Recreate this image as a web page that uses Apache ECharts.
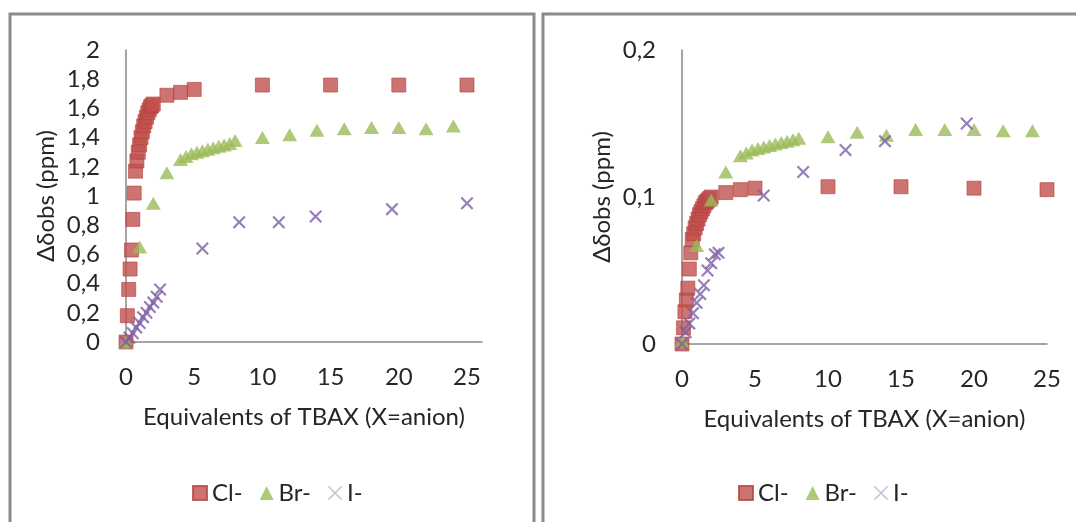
<!DOCTYPE html>
<html>
<head>
<meta charset="utf-8">
<script src="https://cdn.jsdelivr.net/npm/echarts@6/dist/echarts.min.js"></script>
<style>
html,body{margin:0;padding:0;background:#fff;}
#c{width:1076px;height:522px;}
</style>
</head>
<body>
<div id="c"></div>
<script>
// ---- data ----
var clX = [0,0.1,0.2,0.3,0.4,0.5,0.6,0.7,0.8,0.9,1.0,1.1,1.2,1.3,1.4,1.5,1.6,1.7,1.8,1.9,2.0,3,4,5,10,15,20,25];
var clLeftY = [0,0.18,0.36,0.50,0.63,0.84,1.02,1.17,1.24,1.30,1.35,1.40,1.44,1.48,1.51,1.54,1.57,1.59,1.61,1.62,1.63,1.69,1.71,1.73,1.76,1.76,1.76,1.76];
var clRightY = [0,0.011,0.022,0.030,0.038,0.051,0.062,0.071,0.075,0.079,0.082,0.085,0.088,0.090,0.092,0.094,0.096,0.097,0.098,0.099,0.100,0.103,0.105,0.106,0.107,0.107,0.106,0.105];

var brX = [0,1,2,3,4,4.4,4.8,5.2,5.6,6.0,6.4,6.8,7.2,7.6,8.0,10,12,14,16,18,20,22,24];
var brLeftY = [0,0.65,0.95,1.16,1.25,1.27,1.29,1.30,1.31,1.32,1.33,1.34,1.35,1.36,1.38,1.40,1.42,1.45,1.46,1.47,1.47,1.46,1.48];
var brRightY = [0.002,0.067,0.098,0.117,0.128,0.130,0.132,0.133,0.134,0.135,0.136,0.137,0.138,0.139,0.140,0.141,0.144,0.142,0.146,0.146,0.146,0.145,0.145];

var iX = [0,0.25,0.5,0.75,1.0,1.25,1.5,1.75,2.0,2.25,2.5,5.6,8.3,11.2,13.9,19.5,25];
var iLeftY = [0,0.03,0.06,0.10,0.13,0.17,0.20,0.24,0.27,0.31,0.36,0.64,0.82,0.82,0.86,0.91,0.95];
var iRightY = [0,0.008,0.014,0.021,0.028,0.034,0.040,0.050,0.055,0.061,0.062,0.101,0.117,0.132,0.138,0.150,null];

var seriesNames = ['Cl-','Br-','I-'];
var xTitle = 'Equivalents of TBAX (X=anion)';
var yTitle = 'Δδobs (ppm)';
var xTicks = [0,5,10,15,20,25];

function pairs(xs, ys){
  var out = [];
  for (var i=0;i<xs.length;i++){ if (ys[i] !== null) out.push([xs[i], ys[i]]); }
  return out;
}

var FONT = 'Lato';
var FS = 24;
var TXT = '#262626';
var AX = '#888888';
var RED = '#C0504D', GREEN = '#9BBB59', PURPLE = '#7D5FA6';
var XPATH = 'path://M0,1.2 L1.2,0 L5,3.8 L8.8,0 L10,1.2 L6.2,5 L10,8.8 L8.8,10 L5,6.2 L1.2,10 L0,8.8 L3.8,5 Z';
var XPATH_THIN = 'path://M0,0.7 L0.7,0 L5,4.3 L9.3,0 L10,0.7 L5.7,5 L10,9.3 L9.3,10 L5,5.7 L0.7,10 L0,9.3 L4.3,5 Z';

function fmtComma(v){ return String(+v.toFixed(2)).replace('.', ','); }

function xAxisCfg(grid, max){
  return {
    type:'value', gridIndex:grid, min:0, max:max, interval:5,
    name:xTitle, nameLocation:'middle', nameGap:63,
    nameTextStyle:{fontFamily:FONT, fontSize:FS, color:TXT},
    axisLine:{show:true, onZero:false, lineStyle:{color:AX, width:1.5}},
    axisTick:{show:false}, splitLine:{show:false},
    axisLabel:{fontFamily:FONT, fontSize:FS, color:TXT, margin:23,
      formatter:function(v){ return xTicks.indexOf(v) >= 0 ? String(v) : ''; }}
  };
}
function yAxisCfg(grid, max, interval){
  return {
    type:'value', gridIndex:grid, min:0, max:max, interval:interval,
    name:yTitle, nameLocation:'middle', nameGap:68,
    nameTextStyle:{fontFamily:FONT, fontSize:FS, color:TXT},
    axisLine:{show:true, lineStyle:{color:AX, width:1.5}},
    axisTick:{show:false}, splitLine:{show:false},
    axisLabel:{fontFamily:FONT, fontSize:FS, color:TXT, margin:26, formatter:fmtComma}
  };
}
function mkSeries(name, xi, data){
  var s = {name:name, type:'scatter', xAxisIndex:xi, yAxisIndex:xi, data:data, z:2};
  if (name === 'Cl-'){ s.symbol='rect'; s.symbolSize=14; s.itemStyle={color:RED, borderColor:'#B3423F', borderWidth:0.8}; }
  if (name === 'Br-'){ s.symbol='triangle'; s.symbolSize=[15,13]; s.itemStyle={color:GREEN}; }
  if (name === 'I-'){ s.symbol=XPATH; s.symbolSize=13; s.itemStyle={color:PURPLE}; }
  return s;
}
function legendCfg(left){
  return {
    left:left, top:476, itemGap:17, itemWidth:14, itemHeight:14,
    textStyle:{fontFamily:FONT, fontSize:FS, color:TXT, padding:[0,0,0,0]},
    data:[
      {name:'Cl-', icon:'rect', itemStyle:{color:RED}},
      {name:'Br-', icon:'triangle', itemStyle:{color:GREEN}},
      {name:'I-', icon:XPATH_THIN, itemStyle:{color:'#B6A7D0'}}
    ],
    selectedMode:false
  };
}

var chart = echarts.init(document.getElementById('c'), null, {renderer:'canvas'});
chart.setOption({
  animation:false,
  backgroundColor:'#ffffff',
  graphic:[
    {type:'rect', shape:{x:10, y:14, width:524, height:530}, style:{fill:'none', stroke:'#8a8a8a', lineWidth:3}, z:0},
    {type:'rect', shape:{x:543, y:14, width:545, height:530}, style:{fill:'none', stroke:'#8a8a8a', lineWidth:3}, z:0}
  ],
  grid:[
    {left:126, top:50, width:356, height:292},
    {left:682, top:50, width:365, height:294}
  ],
  xAxis:[ xAxisCfg(0, 26.1), xAxisCfg(1, 25) ],
  yAxis:[ yAxisCfg(0, 2, 0.2), yAxisCfg(1, 0.2, 0.1) ],
  legend:[ legendCfg(187), legendCfg(733) ],
  series:[
    mkSeries('Cl-', 0, pairs(clX, clLeftY)),
    mkSeries('Br-', 0, pairs(brX, brLeftY)),
    mkSeries('I-', 0, pairs(iX, iLeftY)),
    mkSeries('Cl-', 1, pairs(clX, clRightY)),
    mkSeries('Br-', 1, pairs(brX, brRightY)),
    mkSeries('I-', 1, pairs(iX, iRightY))
  ]
});
</script>
</body>
</html>
